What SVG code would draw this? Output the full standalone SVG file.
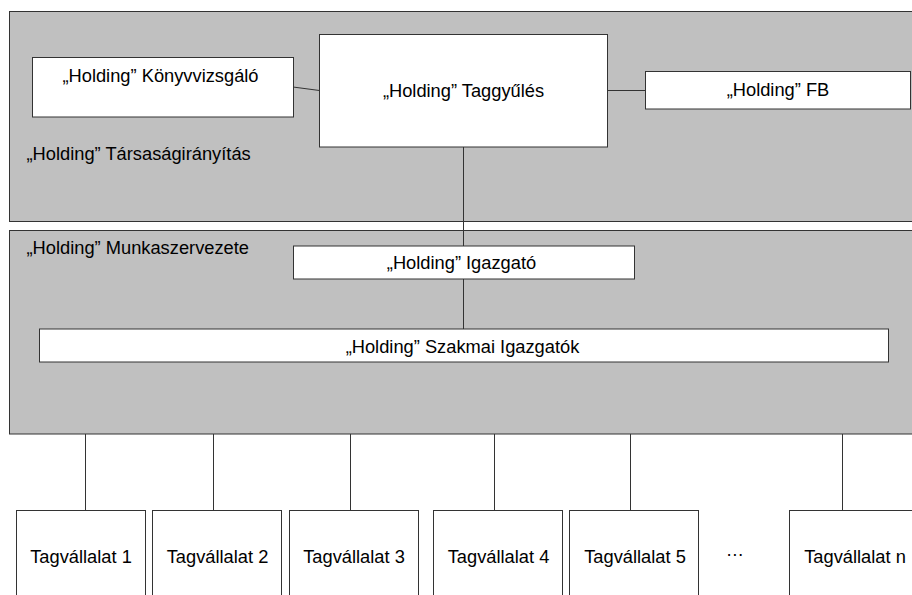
<svg xmlns="http://www.w3.org/2000/svg" width="912" height="595" viewBox="0 0 912 595">
<style>
.panel{fill:#c0c0c0;stroke:#333;stroke-width:1}
.box{fill:#fff;stroke:#333;stroke-width:1}
.t{font-family:"Liberation Sans",Arial,sans-serif;font-size:18.3px;fill:#000}
.m{text-anchor:middle}
.c{stroke:#333;stroke-width:1;fill:none}
</style>
<rect width="912" height="595" fill="#fff"/>
<g id="panel-tarsasagiranyitas">
<rect class="panel" x="9.5" y="11.5" width="912" height="210"/>
<text class="t" x="26.5" y="159.5">„Holding” Társaságirányítás</text>
</g>
<g id="panel-munkaszervezete">
<rect class="panel" x="9.5" y="230.5" width="912" height="203.5"/>
<text class="t" x="26.5" y="253.5">„Holding” Munkaszervezete</text>
</g>
<g id="connectors">
<line class="c" x1="293" y1="87" x2="319.5" y2="90.5"/>
<line class="c" x1="607.5" y1="90.5" x2="645.5" y2="90.5"/>
<line class="c" x1="463.5" y1="147" x2="463.5" y2="246"/>
<line class="c" x1="463.5" y1="279" x2="463.5" y2="329"/>
<line class="c" x1="85.5" y1="434" x2="85.5" y2="510"/>
<line class="c" x1="213.5" y1="434" x2="213.5" y2="510"/>
<line class="c" x1="350.5" y1="434" x2="350.5" y2="510"/>
<line class="c" x1="494.5" y1="434" x2="494.5" y2="510"/>
<line class="c" x1="630.5" y1="434" x2="630.5" y2="510"/>
<line class="c" x1="842.5" y1="434" x2="842.5" y2="510"/>
</g>
<g id="konyvvizsgalo">
<rect class="box" x="32.5" y="57.5" width="261" height="59.5"/>
<text class="t m" x="160.5" y="81.5">„Holding” Könyvvizsgáló</text>
</g>
<g id="taggyules">
<rect class="box" x="319.5" y="34.5" width="288" height="112.5"/>
<text class="t m" x="463.5" y="96.5">„Holding” Taggyűlés</text>
</g>
<g id="fb">
<rect class="box" x="645.5" y="71.5" width="265" height="37.5"/>
<text class="t m" x="778" y="95.5">„Holding” FB</text>
</g>
<g id="igazgato">
<rect class="box" x="293.5" y="246" width="341" height="33"/>
<text class="t m" x="461.5" y="268.5">„Holding” Igazgató</text>
</g>
<g id="szakmai-igazgatok">
<rect class="box" x="39.5" y="329" width="849" height="33"/>
<text class="t m" x="462.5" y="352.5">„Holding” Szakmai Igazgatók</text>
</g>
<g id="tagvallalat-1">
<rect class="box" x="16.5" y="510.5" width="129" height="100"/>
<text class="t m" x="81" y="562.5">Tagvállalat 1</text>
</g>
<g id="tagvallalat-2">
<rect class="box" x="152.5" y="510.5" width="129" height="100"/>
<text class="t m" x="217.5" y="562.5">Tagvállalat 2</text>
</g>
<g id="tagvallalat-3">
<rect class="box" x="289.5" y="510.5" width="129" height="100"/>
<text class="t m" x="354" y="562.5">Tagvállalat 3</text>
</g>
<g id="tagvallalat-4">
<rect class="box" x="433.5" y="510.5" width="129" height="100"/>
<text class="t m" x="498.5" y="562.5">Tagvállalat 4</text>
</g>
<g id="tagvallalat-5">
<rect class="box" x="569.5" y="510.5" width="129" height="100"/>
<text class="t m" x="635" y="562.5">Tagvállalat 5</text>
</g>
<text class="t m" x="735" y="556">…</text>
<g id="tagvallalat-n">
<rect class="box" x="789.5" y="510.5" width="140" height="100"/>
<text class="t m" x="855" y="562.5">Tagvállalat n</text>
</g>
</svg>
